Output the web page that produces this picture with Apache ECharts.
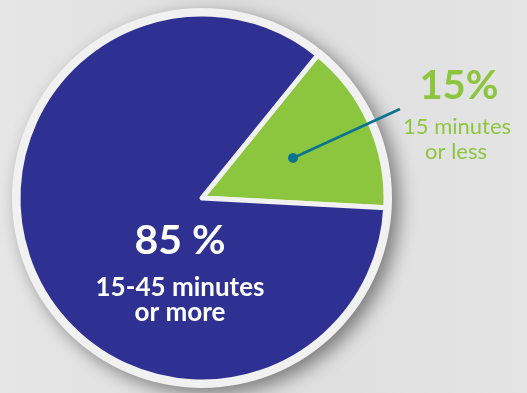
<!DOCTYPE html>
<html><head><meta charset="utf-8">
<script src="https://cdn.jsdelivr.net/npm/echarts@6/dist/echarts.min.js"></script>
<style>
html,body{margin:0;padding:0;background:#e2e2e2;}
#c{width:527px;height:393px;}
</style></head>
<body><div id="c"></div>
<script>
const categories = ['15 minutes or less', '15-45 minutes or more'];
const values = [15, 85];
const subLabels = [['15 minutes', 'or less'], ['15-45 minutes', 'or more']];
const colors = ['#8cc63f', '#2e3192'];

const chart = echarts.init(document.getElementById('c'));
const FONT = 'Lato';
const Z = 100;
chart.setOption({
  backgroundColor: {
    type: 'linear', x: 0, y: 0, x2: 1, y2: 0,
    colorStops: [{offset: 0, color: '#e6e6e6'}, {offset: 0.5, color: '#dedede'}, {offset: 1, color: '#e4e4e4'}]
  },
  animation: false,
  series: [
    {
      type: 'pie', silent: true, center: [202, 198], radius: 190,
      label: {show: false}, labelLine: {show: false},
      itemStyle: {color: '#f1f1f1', shadowBlur: 18, shadowColor: 'rgba(0,0,0,0.45)', shadowOffsetX: 7, shadowOffsetY: 6},
      data: [{value: 1, name: 'ring'}]
    },
    {
      type: 'pie', center: [202, 198], radius: 184, startAngle: 51, clockwise: true,
      label: {show: false}, labelLine: {show: false},
      itemStyle: {borderColor: '#f1f1f1', borderWidth: 5},
      data: categories.map((c, i) => ({name: c, value: values[i], itemStyle: {color: colors[i]}}))
    }
  ],
  graphic: [
    {type: 'line', z: Z, shape: {x1: 293, y1: 158, x2: 400, y2: 109}, style: {stroke: '#0b7391', lineWidth: 2.5}},
    {type: 'circle', z: Z, shape: {cx: 293, cy: 158, r: 5}, style: {fill: '#0b7391'}},
    {type: 'text', z: Z, x: 459, y: 106, style: {text: values[0] + '%', fill: colors[0], font: 'bold 40px ' + FONT, textAlign: 'center', textVerticalAlign: 'bottom'}},
    {type: 'text', z: Z, x: 457, y: 138, style: {text: subLabels[0][0], fill: colors[0], font: '22px ' + FONT, textAlign: 'center', textVerticalAlign: 'bottom'}},
    {type: 'text', z: Z, x: 456, y: 163, style: {text: subLabels[0][1], fill: colors[0], font: '22px ' + FONT, textAlign: 'center', textVerticalAlign: 'bottom'}},
    {type: 'text', z: Z, x: 180, y: 261, style: {text: values[1] + ' %', fill: '#ffffff', font: 'bold 41px ' + FONT, textAlign: 'center', textVerticalAlign: 'bottom'}},
    {type: 'text', z: Z, x: 180, y: 301, style: {text: subLabels[1][0], fill: '#ffffff', font: 'bold 26px ' + FONT, textAlign: 'center', textVerticalAlign: 'bottom'}},
    {type: 'text', z: Z, x: 180, y: 326, style: {text: subLabels[1][1], fill: '#ffffff', font: 'bold 26px ' + FONT, textAlign: 'center', textVerticalAlign: 'bottom'}}
  ]
});
</script></body></html>
